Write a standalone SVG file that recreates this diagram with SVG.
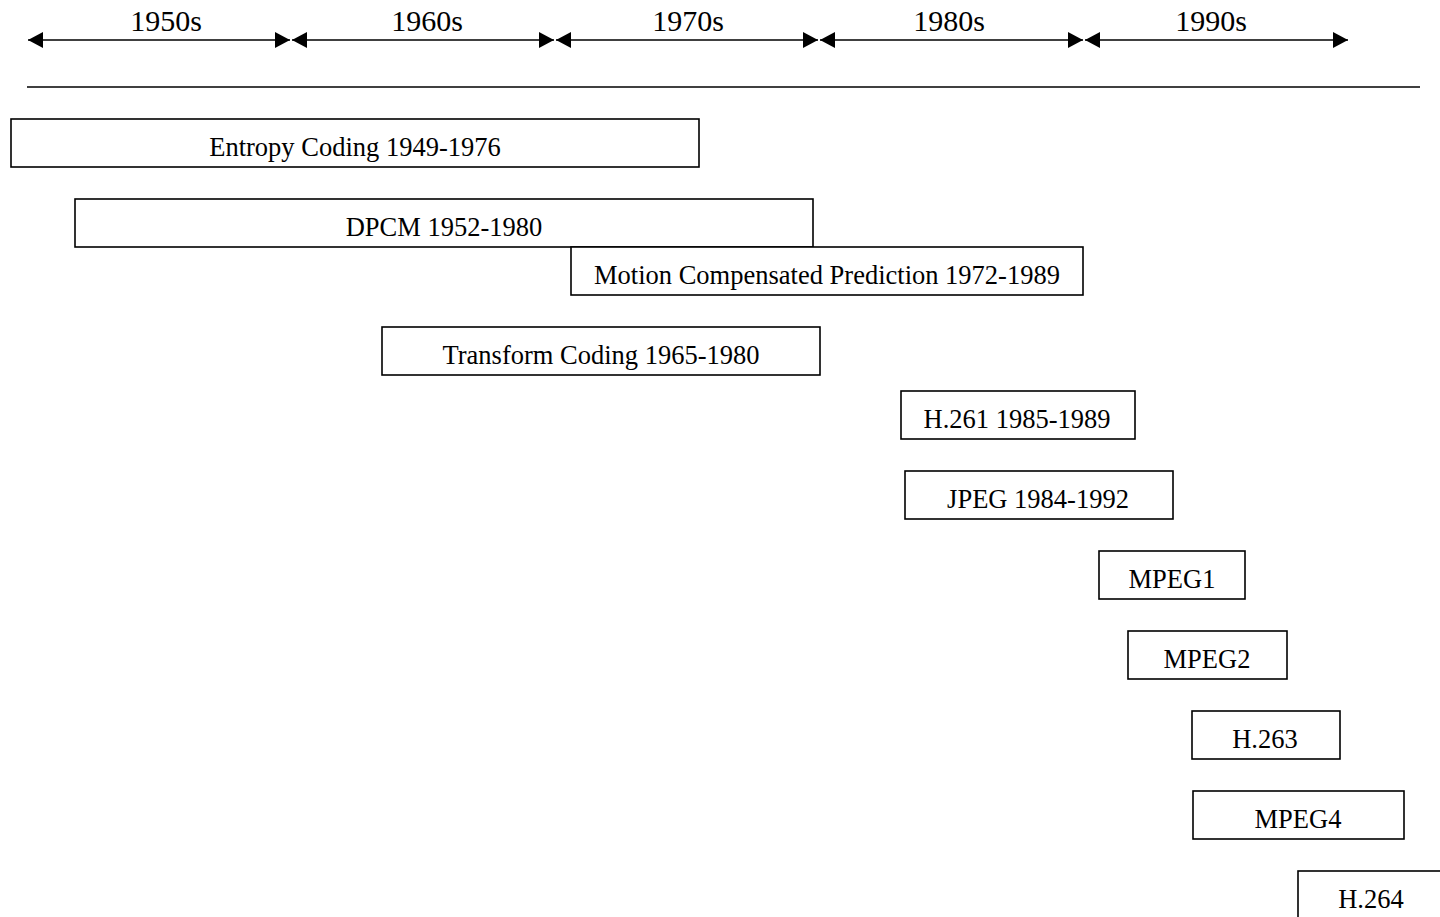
<svg xmlns="http://www.w3.org/2000/svg" width="1440" height="917" viewBox="0 0 1440 917">
<style>
.bx{fill:#fff;stroke:#000;stroke-width:1.6}
.t{font-family:"Liberation Serif","Times New Roman",serif;font-size:26.5px;fill:#000;text-anchor:middle}
.y{font-family:"Liberation Serif","Times New Roman",serif;font-size:30px;fill:#000;text-anchor:middle}
.ln{stroke:#000;stroke-width:1.6;fill:none}
</style>
<defs>
<marker id="ah" viewBox="0 0 15 16" refX="15" refY="8" markerWidth="15" markerHeight="16" markerUnits="userSpaceOnUse" orient="auto-start-reverse">
<path d="M0,0 L15,8 L0,16 z" fill="#000"/>
</marker>
</defs>
<rect width="1440" height="917" fill="#fff"/>
<g id="timeline">
<line class="ln" x1="28" y1="40" x2="290" y2="40" marker-start="url(#ah)" marker-end="url(#ah)"/>
<line class="ln" x1="292" y1="40" x2="554" y2="40" marker-start="url(#ah)" marker-end="url(#ah)"/>
<line class="ln" x1="556" y1="40" x2="818" y2="40" marker-start="url(#ah)" marker-end="url(#ah)"/>
<line class="ln" x1="820" y1="40" x2="1083" y2="40" marker-start="url(#ah)" marker-end="url(#ah)"/>
<line class="ln" x1="1085" y1="40" x2="1348" y2="40" marker-start="url(#ah)" marker-end="url(#ah)"/>
<line class="ln" x1="27" y1="87" x2="1420" y2="87"/>
<text class="y" x="166" y="31">1950s</text>
<text class="y" x="427" y="31">1960s</text>
<text class="y" x="688" y="31">1970s</text>
<text class="y" x="949" y="31">1980s</text>
<text class="y" x="1211" y="31">1990s</text>
</g>
<g id="entropy"><rect class="bx" x="11" y="119" width="688" height="48"/><text class="t" x="355" y="156">Entropy Coding 1949-1976</text></g>
<g id="dpcm"><rect class="bx" x="75" y="199" width="738" height="48"/><text class="t" x="444" y="236">DPCM 1952-1980</text></g>
<g id="mcp"><rect class="bx" x="571" y="247" width="512" height="48"/><text class="t" x="827" y="284">Motion Compensated Prediction 1972-1989</text></g>
<g id="transform"><rect class="bx" x="382" y="327" width="438" height="48"/><text class="t" x="601" y="364">Transform Coding 1965-1980</text></g>
<g id="h261"><rect class="bx" x="901" y="391" width="234" height="48"/><text class="t" x="1017" y="428">H.261 1985-1989</text></g>
<g id="jpeg"><rect class="bx" x="905" y="471" width="268" height="48"/><text class="t" x="1038" y="508">JPEG 1984-1992</text></g>
<g id="mpeg1"><rect class="bx" x="1099" y="551" width="146" height="48"/><text class="t" x="1172" y="588">MPEG1</text></g>
<g id="mpeg2"><rect class="bx" x="1128" y="631" width="159" height="48"/><text class="t" x="1207" y="668">MPEG2</text></g>
<g id="h263"><rect class="bx" x="1192" y="711" width="148" height="48"/><text class="t" x="1265" y="748">H.263</text></g>
<g id="mpeg4"><rect class="bx" x="1193" y="791" width="211" height="48"/><text class="t" x="1298" y="828">MPEG4</text></g>
<g id="h264"><rect class="bx" x="1298" y="871" width="160" height="60"/><text class="t" x="1371" y="908">H.264</text></g>
</svg>
